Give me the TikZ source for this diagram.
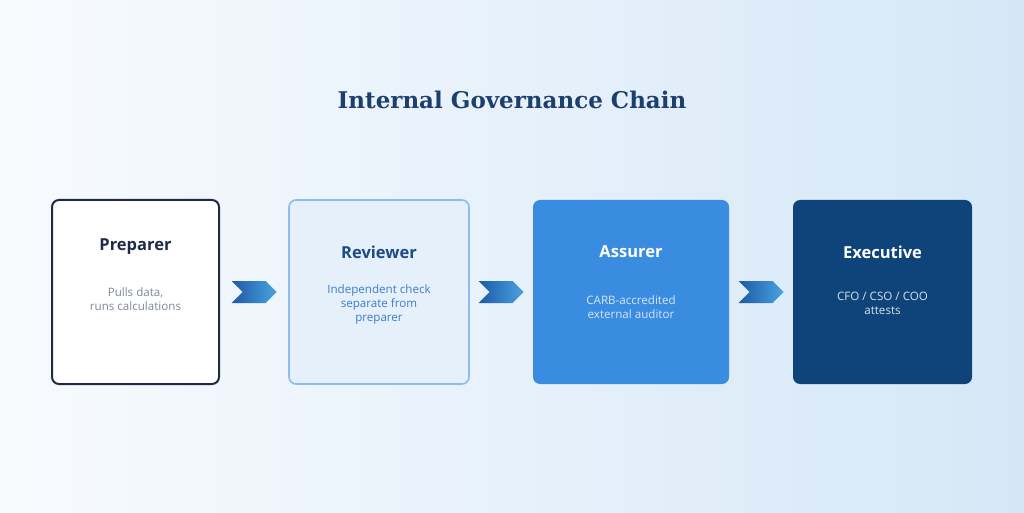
\documentclass[tikz,border=0pt]{standalone}
\usepackage{fontspec}
\setmainfont{Open Sans}
\newfontfamily\headfont{DejaVu Serif}
\usepackage{tikz}
\usetikzlibrary{shapes.symbols}
\usetikzlibrary{positioning,calc}
\definecolor{bgleft}{HTML}{F8FBFE}
\definecolor{bgright}{HTML}{D5E7F7}
\definecolor{headblue}{HTML}{1C3F6E}
\definecolor{prepline}{HTML}{1F2A44}
\definecolor{preptext}{HTML}{7D879A}
\definecolor{revfill}{HTML}{E5F0FB}
\definecolor{revline}{HTML}{8CBCF0}
\definecolor{revhead}{HTML}{1D4A85}
\definecolor{revtext}{HTML}{3C7DC9}
\definecolor{assfill}{HTML}{3A8CE0}
\definecolor{asstext}{HTML}{D3E6F8}
\definecolor{exefill}{HTML}{0E4479}
\definecolor{exetext}{HTML}{D6E2EE}
\definecolor{chevdark}{HTML}{1D5AA6}
\definecolor{chevlight}{HTML}{4AA2E2}
\tikzstyle{stage} = [rectangle, rounded corners=7pt, minimum height=184pt,
outer sep=0pt, inner sep=0pt]
\tikzstyle{stagehead} = [font=\fontsize{16.5}{20}\selectfont\bfseries]
\tikzstyle{stagetext} = [font=\fontsize{11.6}{14}\selectfont, align=center]
\tikzstyle{chevron} = [signal, signal to=east, signal from=west,
minimum width=45pt, minimum height=22pt, inner sep=0pt,
left color=chevdark, right color=chevlight]

\begin{document}
\begin{tikzpicture}[x=1pt, y=1pt]
	% Background
	\shade[left color=bgleft, right color=bgright] (0,0) rectangle (1024,512);
	\useasboundingbox (0,0) rectangle (1024,512);
	\node [font=\headfont\fontsize{23}{27}\selectfont\bfseries, text=headblue] (title) at (512,412) {Internal Governance Chain};

	% Place nodes
	\node [stage, draw=prepline, line width=2pt, fill=white, minimum width=167pt] (prep) at (135.5,220) {};
	\node [stage, draw=revline, line width=1.6pt, fill=revfill, minimum width=180pt, right=70pt of prep] (rev) {};
	\node [stage, fill=assfill, minimum width=196pt, right=64pt of rev] (ass) {};
	\node [stage, fill=exefill, minimum width=179pt, right=64pt of ass] (exe) {};

	% Labels
	\node [stagehead, text=prepline] (preph) at ([yshift=45pt]prep.center) {Preparer};
	\node [stagetext, text=preptext] (prept) at ([yshift=-7pt]prep.center) {Pulls data,\\runs calculations};
	\node [stagehead, text=revhead] (revh) at ([yshift=40pt]rev.center) {Reviewer};
	\node [stagetext, text=revtext] (revt) at ([yshift=-12pt]rev.center) {Independent check\\separate from\\preparer};
	\node [stagehead, text=white] (assh) at ([yshift=40pt]ass.center) {Assurer};
	\node [stagetext, text=asstext] (asst) at ([yshift=-15pt]ass.center) {CARB-accredited\\external auditor};
	\node [stagehead, text=white] (exeh) at ([yshift=40pt]exe.center) {Executive};
	\node [stagetext, text=exetext] (exet) at ([yshift=-11pt]exe.center) {CFO / CSO / COO\\attests};

	% Chevrons
	\node [chevron] (c1) at ($(prep.east)!0.5!(rev.west)$) {};
	\node [chevron] (c2) at ($(rev.east)!0.5!(ass.west)$) {};
	\node [chevron] (c3) at ($(ass.east)!0.5!(exe.west)$) {};

\end{tikzpicture}
\end{document}
